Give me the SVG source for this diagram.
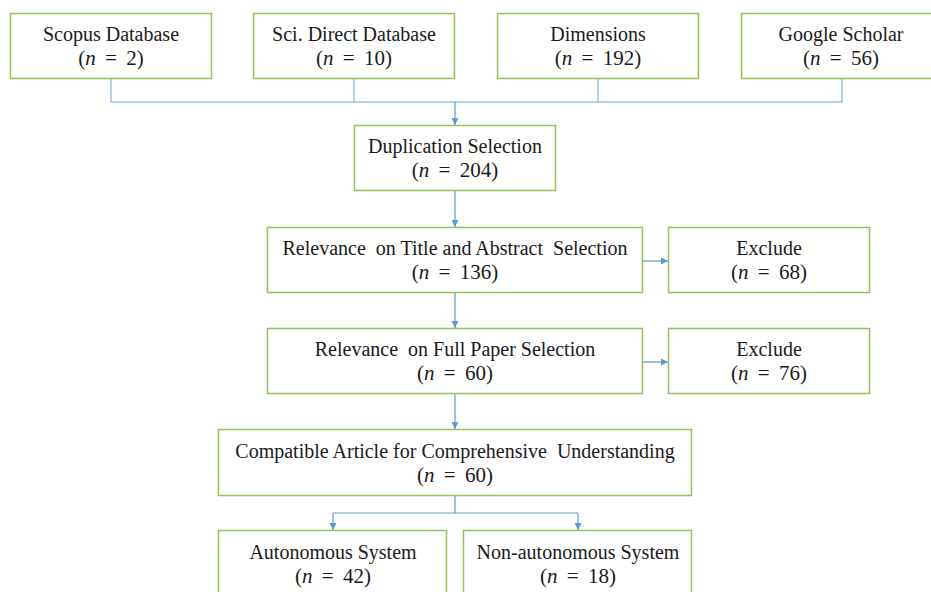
<svg xmlns="http://www.w3.org/2000/svg" width="931" height="592" viewBox="0 0 931 592">
<style>
.box{fill:#fff;stroke:#92c25a;stroke-width:1.5}
.t{font-family:"Liberation Serif","Times New Roman",serif;font-size:20px;fill:#1a1a1a;text-anchor:middle}
.m{font-family:"Liberation Serif","Times New Roman",serif;font-size:21px;fill:#1a1a1a;text-anchor:middle;word-spacing:4px}
.i{font-style:italic}
.bus{fill:none;stroke:#9dc3e6;stroke-width:1.5}
.arr{fill:none;stroke:#5b9bd5;stroke-width:1.2;marker-end:url(#ah)}
.ln{fill:none;stroke:#5b9bd5;stroke-width:1.2}
</style>
<defs>
<marker id="ah" markerWidth="8" markerHeight="8" refX="7" refY="4" orient="auto" markerUnits="userSpaceOnUse">
<path d="M0,0.5 L7,4 L0,7.5 Z" fill="#5b9bd5"/>
</marker>
</defs>
<rect width="931" height="592" fill="#fff"/>
<g id="connectors">
<path class="bus" d="M111,79 V102 H842 V79 M354,79 V102 M598,79 V102"/>
<path class="arr" d="M455,102 V125"/>
<path class="arr" d="M455,191 V227"/>
<path class="arr" d="M455,293 V328"/>
<path class="arr" d="M455,394 V429"/>
<path class="arr" d="M643,261 H668"/>
<path class="arr" d="M643,362 H668"/>
<path class="ln" d="M455,496 V513 M333,513 H578"/>
<path class="arr" d="M333,513 V530"/>
<path class="arr" d="M578,513 V530"/>
</g>
<g id="scopus">
<rect class="box" x="10.5" y="13.5" width="201" height="65"/>
<text class="t" x="111" y="41">Scopus Database</text>
<text class="m" x="111" y="65">(<tspan class="i">n</tspan> = 2)</text>
</g>
<g id="scidirect">
<rect class="box" x="253.5" y="13.5" width="201" height="65"/>
<text class="t" x="354" y="41">Sci. Direct Database</text>
<text class="m" x="354" y="65">(<tspan class="i">n</tspan> = 10)</text>
</g>
<g id="dimensions">
<rect class="box" x="497.5" y="13.5" width="201" height="65"/>
<text class="t" x="598" y="41">Dimensions</text>
<text class="m" x="598" y="65">(<tspan class="i">n</tspan> = 192)</text>
</g>
<g id="scholar">
<rect class="box" x="741.5" y="13.5" width="201" height="65"/>
<text class="t" x="841" y="41">Google Scholar</text>
<text class="m" x="841" y="65">(<tspan class="i">n</tspan> = 56)</text>
</g>
<g id="duplication">
<rect class="box" x="354.5" y="125.5" width="201" height="65"/>
<text class="t" x="455" y="153">Duplication Selection</text>
<text class="m" x="455" y="177">(<tspan class="i">n</tspan> = 204)</text>
</g>
<g id="title-abstract">
<rect class="box" x="267.5" y="227.5" width="375" height="65"/>
<text class="t" x="455" y="255" xml:space="preserve">Relevance  on Title and Abstract  Selection</text>
<text class="m" x="455" y="279">(<tspan class="i">n</tspan> = 136)</text>
</g>
<g id="exclude1">
<rect class="box" x="668.5" y="227.5" width="201" height="65"/>
<text class="t" x="769" y="255">Exclude</text>
<text class="m" x="769" y="279">(<tspan class="i">n</tspan> = 68)</text>
</g>
<g id="full-paper">
<rect class="box" x="267.5" y="328.5" width="375" height="65"/>
<text class="t" x="455" y="356" xml:space="preserve">Relevance  on Full Paper Selection</text>
<text class="m" x="455" y="380">(<tspan class="i">n</tspan> = 60)</text>
</g>
<g id="exclude2">
<rect class="box" x="668.5" y="328.5" width="201" height="65"/>
<text class="t" x="769" y="356">Exclude</text>
<text class="m" x="769" y="380">(<tspan class="i">n</tspan> = 76)</text>
</g>
<g id="compatible">
<rect class="box" x="218.5" y="429.5" width="473" height="66"/>
<text class="t" x="455" y="458" xml:space="preserve">Compatible Article for Comprehensive  Understanding</text>
<text class="m" x="455" y="482">(<tspan class="i">n</tspan> = 60)</text>
</g>
<g id="autonomous">
<rect class="box" x="218.5" y="530.5" width="228" height="70"/>
<text class="t" x="333" y="559">Autonomous System</text>
<text class="m" x="333" y="583">(<tspan class="i">n</tspan> = 42)</text>
</g>
<g id="non-autonomous">
<rect class="box" x="463.5" y="530.5" width="228" height="70"/>
<text class="t" x="578" y="559">Non-autonomous System</text>
<text class="m" x="578" y="583">(<tspan class="i">n</tspan> = 18)</text>
</g>
</svg>
